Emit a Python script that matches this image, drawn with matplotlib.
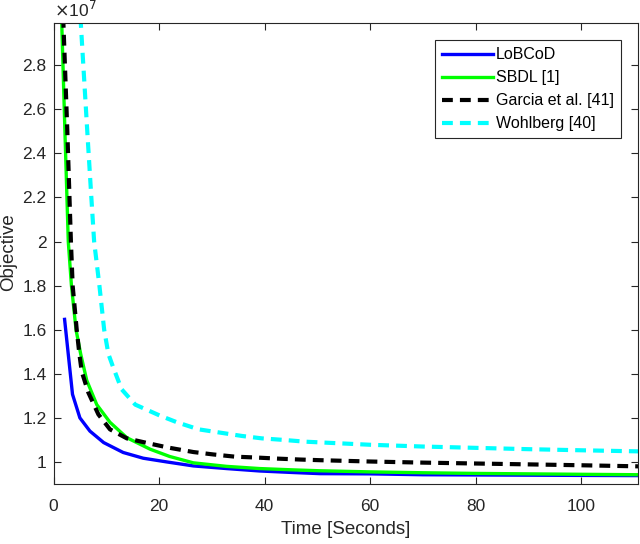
import matplotlib
matplotlib.use("Agg")
import matplotlib.pyplot as plt

plt.rcParams['font.family'] = ['Liberation Sans', 'DejaVu Sans']

# values (objective in units of 1e7)
t_lobcod = [2.1, 3.6, 5.0, 6.9, 9.5, 13.2, 17.0, 21.5, 26.5, 32.8, 39.1, 45.5,
            50.5, 60, 70, 80, 90, 100, 111]
y_lobcod = [1.647, 1.307, 1.20, 1.14, 1.088, 1.043, 1.017, 1.0, 0.982, 0.970,
            0.959, 0.952, 0.947, 0.946, 0.942, 0.941, 0.940, 0.939, 0.938]

t_sbdl = [1.45, 1.55, 2.18, 2.8, 3.4, 4.27, 5.15, 6.3, 8.2, 10.7, 13.9, 18.3,
          22.0, 26.5, 32.8, 39.1, 45.5, 50.5, 60, 70, 80, 90, 100, 111]
y_sbdl = [3.1, 3.0, 2.487, 2.0, 1.8, 1.6, 1.49, 1.37, 1.26, 1.18, 1.11, 1.058,
          1.025, 0.996, 0.98, 0.97, 0.964, 0.96, 0.955, 0.951, 0.948, 0.946,
          0.944, 0.942]

t_garcia = [1.7, 1.86, 2.62, 3.3, 3.63, 4.4, 4.9, 5.35, 6.6, 8.5, 10.7, 13.9,
            18.3, 21.8, 26.5, 30.3, 34.4, 38.5, 42.6, 46.7, 50.5, 60, 70, 80,
            90, 100, 111]
y_garcia = [3.15, 3.0, 2.5, 2.0, 1.8, 1.6, 1.49, 1.41, 1.315, 1.216, 1.148,
            1.107, 1.083, 1.065, 1.045, 1.034, 1.024, 1.02, 1.015, 1.011,
            1.008, 1.002, 0.997, 0.993, 0.989, 0.985, 0.98]

t_wohl = [4.9, 5.15, 6.4, 7.17, 7.7, 8.7, 9.6, 10.4, 11.3, 12.9, 15.5, 20.2,
          23.4, 27.5, 31.6, 35.7, 39.5, 43.6, 47.7, 60, 70, 80, 90, 100, 111]
y_wohl = [3.1, 3.0, 2.5, 2.2, 2.0, 1.8, 1.6, 1.49, 1.43, 1.33, 1.26, 1.21,
          1.18, 1.148, 1.133, 1.118, 1.107, 1.10, 1.092, 1.078, 1.07, 1.064,
          1.058, 1.053, 1.048]

labels = ['LoBCoD', 'SBDL [1]', 'Garcia et al. [41]', 'Wohlberg [40]']
xticks = [0, 20, 40, 60, 80, 100]
yticks = [1, 1.2, 1.4, 1.6, 1.8, 2, 2.2, 2.4, 2.6, 2.8]

fig = plt.figure(figsize=(6.4, 5.44), dpi=100)
ax = fig.add_axes([0.0836, 0.1103, 0.9128, 0.8467])

ax.plot(t_lobcod, y_lobcod, color=(0, 0, 1), lw=2.4, label=labels[0])
ax.plot(t_sbdl, y_sbdl, color=(0, 1, 0), lw=2.4, label=labels[1])
ax.plot(t_garcia, y_garcia, color='k', lw=3, dashes=(2.6, 1.7), label=labels[2])
ax.plot(t_wohl, y_wohl, color=(0, 1, 1), lw=3, dashes=(2.6, 1.7), label=labels[3])

ax.set_xlim(0, 110.7)
ax.set_ylim(0.9, 2.99)
ax.set_xticks(xticks)
ax.set_xticklabels([str(v) for v in xticks])
ax.set_yticks(yticks)
ax.set_yticklabels(['%g' % v for v in yticks])

gray = '#262626'
for s in ax.spines.values():
    s.set_color(gray)
    s.set_linewidth(0.8)
ax.tick_params(direction='in', length=5, width=0.8, colors=gray,
               labelsize=12.5, top=True, right=True)
ax.tick_params(axis='x', pad=11)
ax.tick_params(axis='y', pad=5)

ax.set_xlabel('Time [Seconds]', fontsize=13.5, color=gray, labelpad=5)
fig.text(9 / 640, 1 - 252 / 544, 'Objective', rotation=90, fontsize=13.5,
         color=gray, ha='center', va='center')
ax.text(0.0, 1.008, r'$\times$10$^7$', transform=ax.transAxes, fontsize=12.5,
        color=gray, ha='left', va='bottom')

leg = ax.legend(loc='upper right', bbox_to_anchor=(0.971, 0.964), fontsize=11.5,
                handlelength=3.2, handletextpad=0.15, borderpad=0.45,
                labelspacing=0.5, fancybox=False, framealpha=1,
                borderaxespad=0)
leg.get_frame().set_edgecolor(gray)
leg.get_frame().set_linewidth(0.8)

fig.savefig('out.png', dpi=100)
